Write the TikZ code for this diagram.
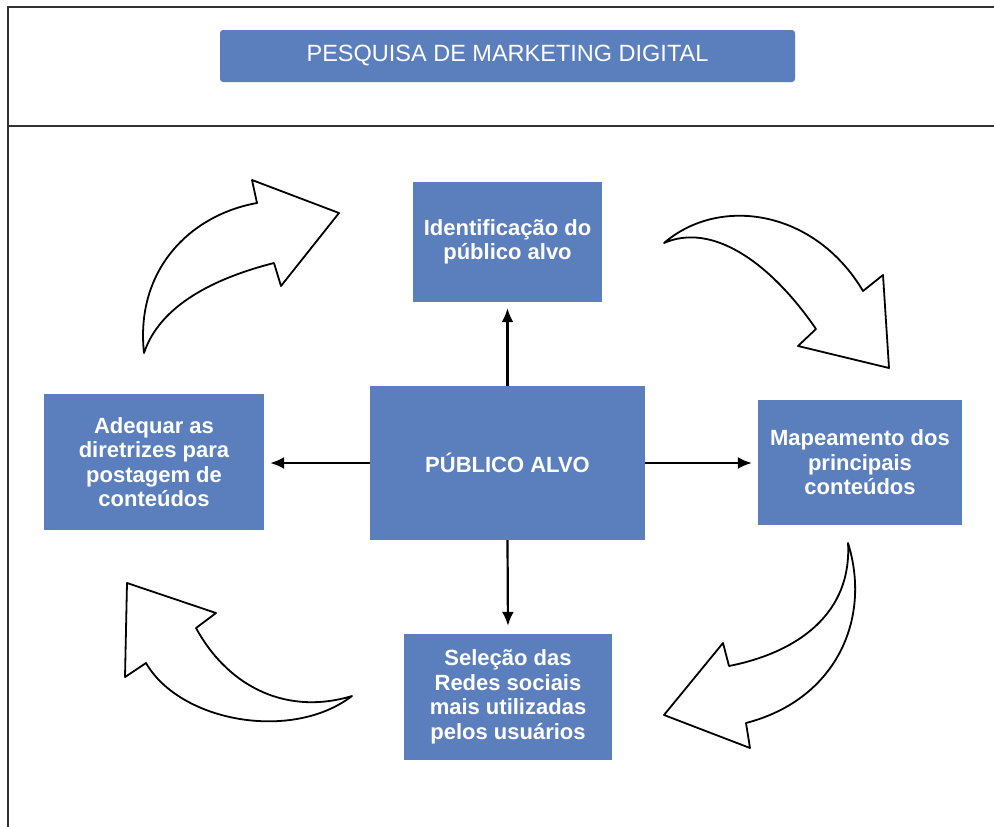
\documentclass[tikz,border=0pt]{standalone}
\usepackage{fontspec}
\setmainfont{Liberation Sans}
\usetikzlibrary{arrows.meta}
\definecolor{boxblue}{RGB}{91,127,189}
\definecolor{framegray}{RGB}{50,50,50}
\begin{document}
\begin{tikzpicture}[x=1pt,y=-1pt,
  box/.style={fill=boxblue, text=white, align=center, inner sep=0pt,
    font=\fontsize{22}{24.5}\selectfont\bfseries},
  titlebox/.style={fill=boxblue, text=white, align=center, inner sep=0pt,
    rounded corners=3pt, font=\fontsize{23.5}{26}\selectfont},
  conn/.style={line width=2.2pt, -{Latex[length=14pt,width=12pt]}, shorten >=6pt},
  blockarrow/.style={draw=black, fill=white, line width=1.8pt, line join=round},
  frame/.style={draw=framegray, line width=2.2pt}]
\useasboundingbox (0,0) rectangle (994,827);
% frame
\draw[frame] (994,7) -- (8,7) -- (8,827);
\draw[frame] (8,126) -- (994,126);
% title
\node[titlebox, minimum width=575pt, minimum height=52pt] (title) at (507.5,56) {PESQUISA DE MARKETING DIGITAL};
% boxes
\node[box, minimum width=189pt, minimum height=120pt] (id) at (507.5,242) {Identificação do\\público alvo};
\node[box, minimum width=275pt, minimum height=154pt] (pa) at (507.5,463) {PÚBLICO ALVO};
\node[box, minimum width=220pt, minimum height=136pt] (ad) at (154,462) {Adequar as\\diretrizes para\\postagem de\\conteúdos};
\node[box, minimum width=204pt, minimum height=125pt] (map) at (860,462.5) {Mapeamento dos\\principais\\conteúdos};
\node[box, minimum width=208pt, minimum height=126pt] (sel) at (508,697) {Seleção das\\Redes sociais\\mais utilizadas\\pelos usuários};
% connectors
\draw[conn] (pa.north) -- (id.south);
\draw[conn] (pa.west) -- (ad.east |- pa.west);
\draw[conn] (pa.east) -- (map.west |- pa.east);
\draw[conn, shorten >=8pt] (pa.south) -- (sel.north);
% curved block arrows
\path[blockarrow] (144,353) .. controls (135,270) and (190,215) .. (257,203)
  -- (252,180) -- (339,213) -- (281,286) -- (274,263)
  .. controls (215,278) and (160,305) .. (144,353) -- cycle;
\path[blockarrow] (664,243) .. controls (720,195) and (815,210) .. (863,291)
  -- (883,275) -- (889,368) -- (798,346) -- (816,329)
  .. controls (770,262) and (712,222) .. (664,243) -- cycle;
\path[blockarrow] (848,543) .. controls (852,612) and (800,652) .. (729,666)
  -- (723,643) -- (664,715) -- (750,748) -- (746,723)
  .. controls (835,700) and (872,620) .. (848,543) -- cycle;
\path[blockarrow] (352,696) .. controls (290,715) and (230,690) .. (196,628)
  -- (216,613) -- (127,583) -- (125,677) -- (146,663)
  .. controls (180,722) and (292,742) .. (352,696) -- cycle;
\end{tikzpicture}
\end{document}
